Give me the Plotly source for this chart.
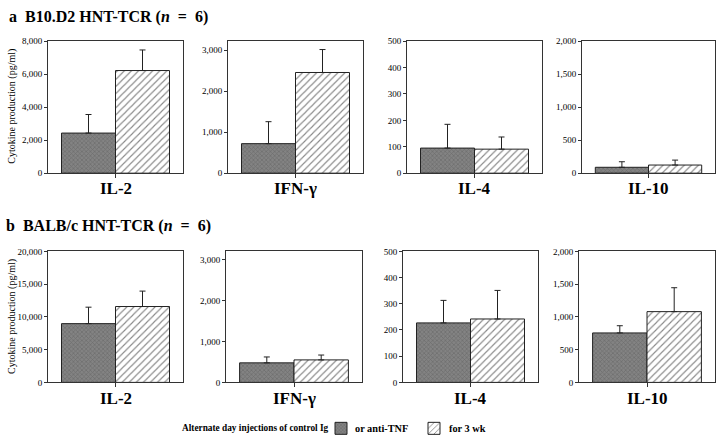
import plotly.graph_objects as go

# ---- data ----
cytokines = ["IL-2", "IFN-γ", "IL-4", "IL-10"]
b10_control = [2430, 720, 95, 89]
b10_control_sd = [1125, 536, 90, 84]
b10_antitnf = [6220, 2456, 91, 123]
b10_antitnf_sd = [1247, 560, 46, 75]
balb_control = [8970, 477, 227, 755]
balb_control_sd = [2510, 144, 86, 110]
balb_antitnf = [11580, 549, 242, 1080]
balb_antitnf_sd = [2355, 119, 109, 365]

top_ymax = [8000, 3220, 500, 2000]
top_dtick = [2000, 1000, 100, 500]
bot_ymax = [20000, 3200, 500, 2000]
bot_dtick = [5000, 1000, 100, 500]

legend_texts = ["Alternate day injections of control Ig", "or anti-TNF", "for 3 wk"]

W, H = 720, 448
FONT = "Liberation Serif"

# pixel domains of panels
top_x = [(48, 183), (228, 363), (407, 542), (582, 715)]
bot_x = [(48, 183), (226, 362), (403, 538), (579, 715)]
top_y = (37, 172)
bot_y = (252, 386)

fig = go.Figure()

dark_marker = dict(color="#777777",
                   pattern=dict(shape="x", fgcolor="#555555", bgcolor="#838383", size=3, solidity=0.4),
                   line=dict(color="#222222", width=1))
hatch_marker = dict(color="white",
                    pattern=dict(shape="/", fgcolor="#111111", bgcolor="white", size=5, solidity=0.22),
                    line=dict(color="#222222", width=1))

def err(sd):
    return dict(type="data", symmetric=False, array=[sd], arrayminus=[0],
                color="#222222", thickness=1, width=3)

panels = []
for i in range(4):
    panels.append((i, b10_control[i], b10_control_sd[i], b10_antitnf[i], b10_antitnf_sd[i],
                   top_x[i], top_y, top_ymax[i], top_dtick[i]))
for i in range(4):
    panels.append((i, balb_control[i], balb_control_sd[i], balb_antitnf[i], balb_antitnf_sd[i],
                   bot_x[i], bot_y, bot_ymax[i], bot_dtick[i]))

annotations = []
layout_axes = {}
for k, (i, c, csd, a, asd, xd, yd, ymax, dt) in enumerate(panels):
    n = k + 1
    xa = "x" if n == 1 else f"x{n}"
    ya = "y" if n == 1 else f"y{n}"
    cat = [cytokines[i]]
    fig.add_trace(go.Bar(x=cat, y=[c], name="", marker=dark_marker,
                         error_y=err(csd), xaxis=xa, yaxis=ya,
                         showlegend=(n == 1), legend="legend"))
    fig.add_trace(go.Bar(x=cat, y=[a], name="", marker=hatch_marker,
                         error_y=err(asd), xaxis=xa, yaxis=ya,
                         showlegend=(n == 1), legend="legend2"))
    xkey = "xaxis" if n == 1 else f"xaxis{n}"
    ykey = "yaxis" if n == 1 else f"yaxis{n}"
    layout_axes[xkey] = dict(domain=[xd[0] / W, xd[1] / W], anchor=ya,
                             showline=True, linecolor="#333333", linewidth=1, mirror=True,
                             ticks="outside", ticklen=4, tickcolor="#333333",
                             showticklabels=False,
                             showgrid=False, zeroline=False, fixedrange=True)
    layout_axes[ykey] = dict(domain=[1 - yd[1] / H, 1 - yd[0] / H], anchor=xa,
                             range=[0, ymax], dtick=dt, tick0=0, tickformat=",d",
                             showline=True, linecolor="#333333", linewidth=1, mirror=True,
                             ticks="outside", ticklen=3, tickcolor="#333333",
                             tickfont=dict(family=FONT, size=9, color="black"),
                             showgrid=False, zeroline=False)
    # category label under each panel
    annotations.append(dict(text=f"<b>{cytokines[i]}</b>", x=cytokines[i], xref=xa,
                            y=1 - (yd[1] + 16) / H, yref="paper",
                            xanchor="center", yanchor="middle", showarrow=False,
                            font=dict(family=FONT, size=17, color="black")))

fig.update_layout(**layout_axes)

LEG_Y = 1 - 433 / H

def ptext(text, cx, cy, size, angle=0):
    return dict(text=text, x=cx / W, y=1 - cy / H, textangle=angle,
                xref="paper", yref="paper", xanchor="center", yanchor="middle",
                showarrow=False, font=dict(family=FONT, size=size, color="black"))

annotations += [
    ptext("<b>a  B10.D2 HNT-TCR (<i>n</i>  =  6)</b>", 109, 12, 16),
    ptext("<b>b  BALB/c HNT-TCR (<i>n</i>  =  6)</b>", 109, 226, 16),
    ptext("Cytokine production (pg/ml)", 12, 104, 10, -90),
    ptext("Cytokine production (pg/ml)", 12, 319, 10, -90),
    ptext(f"<b>{legend_texts[0]}</b>", 255, 433, 9.3),
    ptext(f"<b>{legend_texts[1]}</b>", 381, 433, 10.3),
    ptext(f"<b>{legend_texts[2]}</b>", 467, 433, 10.3),
]

leg_common = dict(orientation="h", y=LEG_Y, xanchor="left", yanchor="middle",
                  font=dict(family=FONT, size=11, color="black"),
                  itemwidth=30, bgcolor="rgba(0,0,0,0)", borderwidth=0)

fig.update_layout(
    width=W, height=H,
    margin=dict(l=0, r=0, t=0, b=0),
    paper_bgcolor="white", plot_bgcolor="white",
    barmode="group", bargap=0.2, bargroupgap=0,
    annotations=annotations,
    showlegend=True,
    legend=dict(x=321 / W, **leg_common),
    legend2=dict(x=414 / W, **leg_common),
    font=dict(family=FONT),
    hovermode=False,
)

fig.write_html("out.html", config={"displayModeBar": False},
               post_script="document.body.style.margin='0px';")
